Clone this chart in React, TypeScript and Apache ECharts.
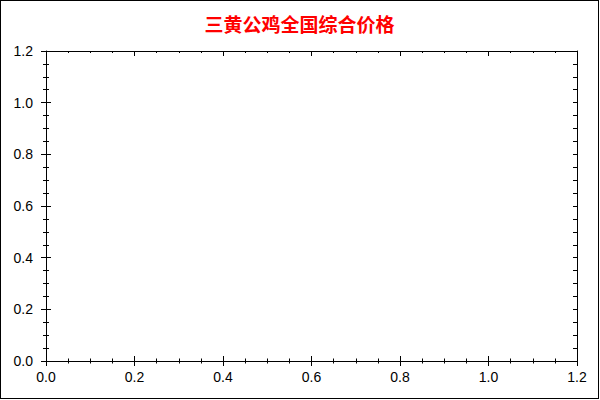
import React, { useEffect, useRef } from "react";
import * as echarts from "echarts";

// ---- data ----
const chartTitle = "三黄公鸡全国综合价格";
const xRange = [0, 1.2];
const yRange = [0, 1.2];
const tickStep = 0.2;
const seriesName = "三黄公鸡";
const seriesPoints: number[][] = []; // no data in the reference

const labelFont = {
  fontFamily: "Arial, 'Liberation Sans', sans-serif",
  fontSize: 14,
  color: "#000",
};

const fmt = (v: number) => v.toFixed(1);

function axisBase(kind: "x" | "y", position: string, opts: any) {
  const range = kind === "x" ? xRange : yRange;
  return {
    type: "value",
    position,
    min: range[0],
    max: range[1],
    interval: tickStep,
    splitLine: { show: false },
    axisLine: { show: opts.line, onZero: false, lineStyle: { color: "#000", width: 1 } },
    axisTick: {
      show: true,
      inside: opts.inside,
      length: opts.tickLen,
      lineStyle: { color: "#000", width: 1 },
    },
    minorTick: {
      show: true,
      splitNumber: 4,
      length: opts.minorLen,
      lineStyle: { color: "#000", width: 1 },
    },
    axisLabel: opts.label
      ? { show: true, margin: opts.margin, formatter: fmt, ...labelFont }
      : { show: false },
  };
}

export default function App() {
  const ref = useRef<HTMLDivElement>(null);
  useEffect(() => {
    document.body.style.margin = "0";
    const chart = echarts.init(ref.current!, null, { renderer: "svg" });
    chart.setOption({
      animation: false,
      backgroundColor: "#fff",
      title: {
        text: chartTitle,
        left: "center",
        top: 8,
        textStyle: {
          color: "#ff0000",
          fontSize: 19,
          fontWeight: "bold",
          fontFamily: "'Noto Sans CJK SC', sans-serif",
        },
      },
      grid: { left: 45, top: 50, right: 21, bottom: 37, containLabel: false },
      xAxis: [
        axisBase("x", "bottom", { line: true, inside: true, tickLen: 5, minorLen: 2.5, label: true, margin: 9 }),
        axisBase("x", "bottom", { line: false, inside: false, tickLen: 5, minorLen: 2.5, label: false }),
        axisBase("x", "top", { line: true, inside: true, tickLen: 5, minorLen: 2, label: false }),
      ],
      yAxis: [
        axisBase("y", "left", { line: true, inside: true, tickLen: 5, minorLen: 3, label: true, margin: 13 }),
        axisBase("y", "left", { line: false, inside: false, tickLen: 5, minorLen: 3, label: false }),
        axisBase("y", "right", { line: true, inside: true, tickLen: 4, minorLen: 4, label: false }),
      ],
      series: [
        {
          name: seriesName,
          type: "line",
          xAxisIndex: 0,
          yAxisIndex: 0,
          data: seriesPoints,
          symbol: "none",
          lineStyle: { color: "#ff0000" },
        },
      ],
    });
    return () => chart.dispose();
  }, []);
  return (
    <div
      style={{
        position: "absolute",
        left: 0,
        top: 0,
        width: 599,
        height: 399,
        boxSizing: "border-box",
        border: "1px solid #000",
        background: "#fff",
      }}
    >
      <div ref={ref} style={{ width: 597, height: 397 }} />
    </div>
  );
}
